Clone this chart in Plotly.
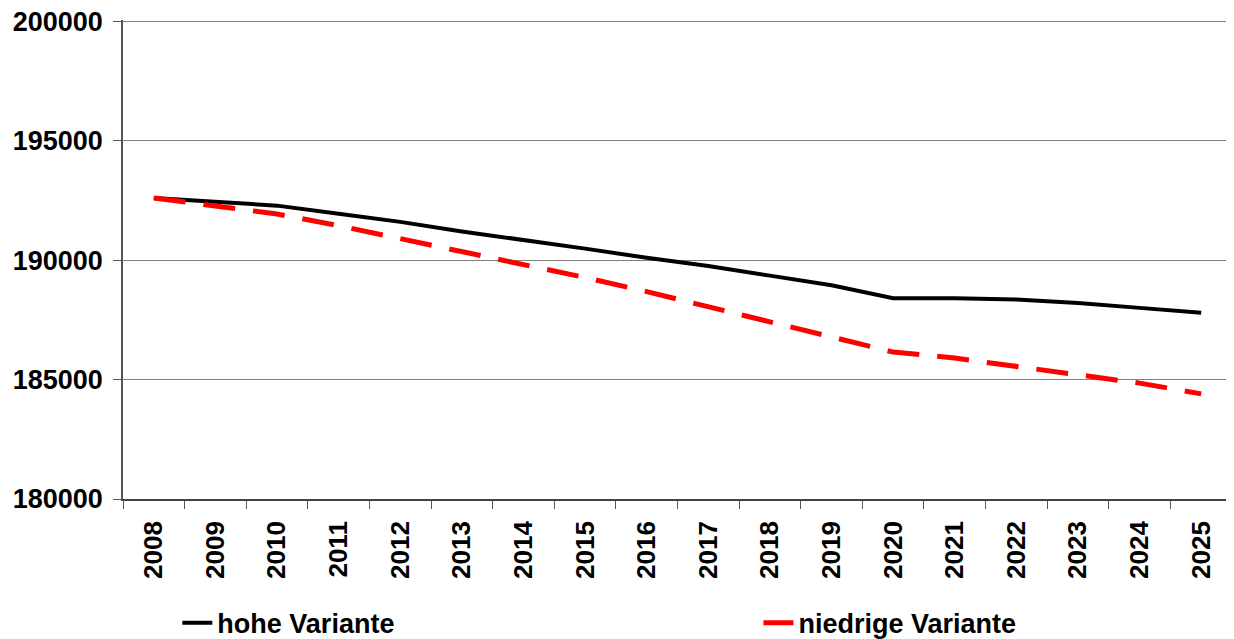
import plotly.graph_objects as go

years = [str(y) for y in range(2008, 2026)]

hohe_variante = [192600, 192450, 192280, 191940, 191600, 191200, 190850, 190480, 190100,
                 189750, 189350, 188950, 188400, 188400, 188350, 188200, 188000, 187800]

niedrige_variante = [192600, 192280, 191930, 191440, 190900, 190350, 189800, 189270, 188680,
                     188050, 187450, 186800, 186150, 185900, 185550, 185200, 184850, 184400]

y_ticks = [180000, 185000, 190000, 195000, 200000]

FONT = "Arial, Liberation Sans, sans-serif"
legend_font = dict(family=FONT, size=27, color="black", weight="bold")

fig = go.Figure()

fig.add_trace(go.Scatter(
    x=years, y=hohe_variante, mode="lines", name="hohe Variante",
    line=dict(color="black", width=4), legend="legend",
))

fig.add_trace(go.Scatter(
    x=years, y=niedrige_variante, mode="lines", name="niedrige Variante",
    line=dict(color="#ff0000", width=5, dash="32px,18px"), legend="legend2",
))

# page body has an 8px margin, so the figure is a bit smaller than the window
fig.update_layout(
    width=1226,
    height=631,
    margin=dict(l=115, r=2, t=12, b=140, autoexpand=False),
    plot_bgcolor="white",
    paper_bgcolor="white",
    font=dict(family=FONT, color="black", size=24, weight="bold"),
    showlegend=True,
    legend=dict(
        orientation="h", x=0.049, xanchor="left", y=-0.208, yanchor="top",
        font=legend_font, bgcolor="rgba(0,0,0,0)",
    ),
    legend2=dict(
        orientation="h", x=0.573, xanchor="left", y=-0.208, yanchor="top",
        font=legend_font, bgcolor="rgba(0,0,0,0)",
    ),
)

fig.update_xaxes(
    type="category",
    range=[-0.5, len(years) - 0.5],
    tickson="boundaries",
    ticks="outside", ticklen=8, tickcolor="#555555", tickwidth=1,
    tickangle=-90,
    ticklabelstandoff=10,
    tickfont=dict(family=FONT, size=26, color="black", weight="bold"),
    showline=True, linecolor="#444444", linewidth=1.5,
    showgrid=False,
    automargin=False,
)

fig.update_yaxes(
    range=[180000, 200050],
    tickvals=y_ticks,
    ticktext=[str(v) for v in y_ticks],
    ticks="outside", ticklen=8, tickcolor="#555555", tickwidth=1,
    ticklabelstandoff=5,
    ticklabeloverflow="allow",
    tickfont=dict(family=FONT, size=27, color="black", weight="bold"),
    showline=True, linecolor="#555555", linewidth=1.5,
    showgrid=True, gridcolor="#808080", gridwidth=1,
    zeroline=False,
    automargin=False,
)

fig.write_html("out.html")
